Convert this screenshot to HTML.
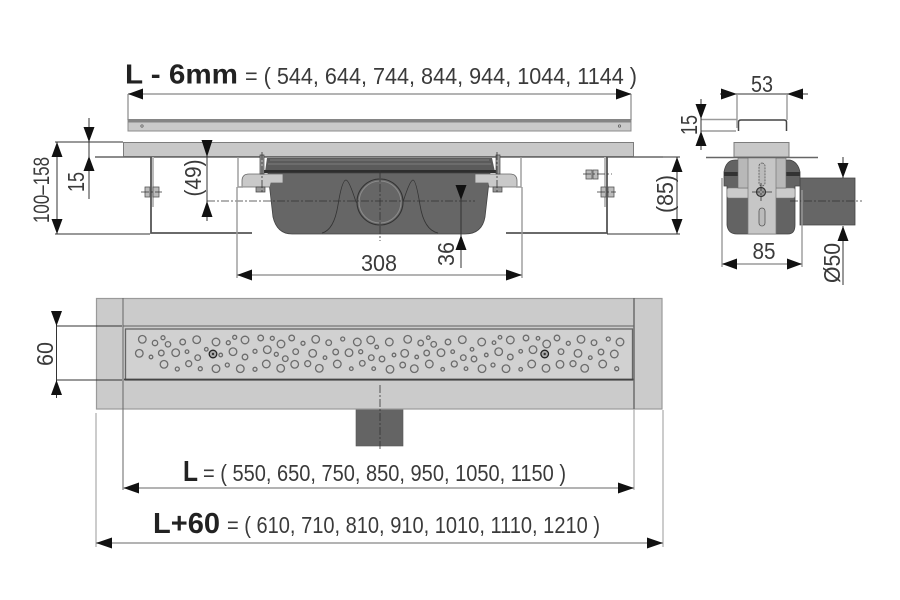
<!DOCTYPE html>
<html>
<head>
<meta charset="utf-8">
<style>
html,body{margin:0;padding:0;background:#fff;width:900px;height:600px;overflow:hidden}
svg{display:block;filter:blur(.35px)}
text{font-family:"Liberation Sans",sans-serif;fill:#3a3a3a}
.b{font-weight:bold;fill:#222}
.d{stroke:#333;stroke-width:1;fill:none}
.g{stroke:#9a9a9a;stroke-width:1.4;fill:none}
.a{fill:#111;stroke:none}
.cl{stroke:#333;stroke-width:.8;stroke-dasharray:8 2 2 2;fill:none}
.h circle{fill:none;stroke:#6c6c6c;stroke-width:1.300}
</style>
</head>
<body>
<svg width="900" height="600" viewBox="0 0 900 600" xmlns="http://www.w3.org/2000/svg">

<!-- top title -->
<text class="b" x="125" y="83.500" font-size="28" textLength="113" lengthAdjust="spacingAndGlyphs">L - 6mm</text>
<text x="245" y="84" font-size="23" textLength="392" lengthAdjust="spacingAndGlyphs">= ( 544, 644, 744, 844, 944, 1044, 1144 )</text>
<path class="g" d="M128 94H631M128 94V120M631 94V120"/>
<path class="a" d="M128 94L143 88.500V99.500ZM631.500 94L616 88.500V99.500Z"/>

<!-- cover bar -->
<rect x="128" y="119.500" width="503" height="11.500" fill="#cacaca" stroke="#8c8c8c"/>
<rect x="128" y="119" width="503" height="3.500" fill="#858585"/>
<circle cx="142" cy="126" r="1.200" fill="none" stroke="#555" stroke-width=".7"/>
<circle cx="619.500" cy="126" r="1.200" fill="none" stroke="#555" stroke-width=".7"/>

<!-- section plate -->
<rect x="123.500" y="142.500" width="510" height="14" fill="#c8c8c8" stroke="#7d7d7d"/>
<path d="M95 157H663" stroke="#666" stroke-width="1.500" fill="none"/>

<!-- tray -->
<path d="M267 158H492L495 172H265Z" fill="#5b5b5b"/>
<path d="M270 160H489M268 164H491" stroke="#8a8a8a" stroke-width=".8" fill="none"/>
<rect x="262" y="170" width="236" height="3" fill="#2e2e2e"/>
<path d="M268 173H490L485 217Q482 234 465 234H292Q277 234 273 217Z" fill="#666" stroke="#444" stroke-width=".8"/>
<path d="M322 233Q334 230 338 205Q342 180 346 180Q349 180 356 202L372 208M438 233Q424 230 420 205Q416 180 413 180Q410 180 403 202L389 208" fill="none" stroke="#333" stroke-width=".8"/>
<circle cx="380" cy="202" r="23" fill="#666" stroke="#333" stroke-width="1.100"/>
<circle cx="380" cy="202" r="21" fill="none" stroke="#8a8a8a" stroke-width="1.100"/>
<path d="M242 187V181Q242 174 249 174H283V183H271L270 187Z" fill="#c9c9c9" stroke="#666" stroke-width=".8"/>
<path d="M517 187V181Q517 174 510 174H475V183H488L489 187Z" fill="#c9c9c9" stroke="#666" stroke-width=".8"/>
<path d="M260 155H264V174H260ZM496 155H500V174H496Z" fill="#999" stroke="#444" stroke-width=".7"/>
<path d="M256 187H265V192H256ZM493 187H502V192H493Z" fill="#999" stroke="#444" stroke-width=".7"/>
<path class="cl" d="M262 152V192M497 152V192"/>
<path class="g" d="M238 157V187H243M521 157V187H516"/>

<!-- side brackets -->
<path d="M151 157V233H252" fill="none" stroke="#555" stroke-width="1.800"/>
<path d="M607 157V233H506" fill="none" stroke="#555" stroke-width="1.800"/>
<rect x="152" y="157" width="2" height="50" fill="#bbb"/>
<rect x="604" y="157" width="2" height="50" fill="#bbb"/>
<g fill="#bbb" stroke="#555" stroke-width=".8">
<rect x="145" y="187" width="5" height="10"/><rect x="153" y="187" width="6" height="10"/>
<rect x="601" y="187" width="5" height="10"/><rect x="608" y="187" width="6" height="10"/>
<rect x="586" y="170" width="6" height="9"/><rect x="593" y="170" width="5" height="9"/>
</g>
<path class="cl" d="M141 192H162M597 192H616M583 174H612"/>

<!-- section dims -->
<path class="cl" d="M207 201H475M380 170V241"/>
<path class="d" d="M55 142H123M55 234H150M57 142V234M89 118V199M207 140V221M461 185V268M663 157H680M607 234H680M677 157V234" stroke-width=".9"/>
<path class="g" d="M237 187V278M522 187V278M237 275H522"/>
<path class="a" d="M57 142L51.500 157H62.500ZM57 234L51.500 219H62.500ZM89 142L83.500 127H94.500ZM89 156L83.500 171H94.500ZM207 157L201.500 140H212.500ZM207 201L201.500 217H212.500ZM461 200L455.500 185H466.500ZM461 235L455.500 250H466.500ZM677 157L671.500 172H682.500ZM677 234L671.500 219H682.500ZM237 275L252 269.500V280.500ZM522 275L506 269.500V280.500Z"/>
<text x="379" y="271" font-size="23" text-anchor="middle" textLength="36" lengthAdjust="spacingAndGlyphs">308</text>
<text transform="translate(49,190) rotate(-90)" font-size="22" text-anchor="middle" textLength="66" lengthAdjust="spacingAndGlyphs">100–158</text>
<text transform="translate(84,182) rotate(-90)" font-size="23" text-anchor="middle" textLength="20" lengthAdjust="spacingAndGlyphs">15</text>
<text transform="translate(201,178) rotate(-90)" font-size="23" text-anchor="middle" textLength="37" lengthAdjust="spacingAndGlyphs">(49)</text>
<text transform="translate(454,254) rotate(-90)" font-size="23" text-anchor="middle" textLength="24" lengthAdjust="spacingAndGlyphs">36</text>
<text transform="translate(673,194) rotate(-90)" font-size="23" text-anchor="middle" textLength="38" lengthAdjust="spacingAndGlyphs">(85)</text>

<!-- end view -->
<path d="M738.500 131V122Q738.500 120 741 120H784Q786.500 120 786.500 122V131" fill="none" stroke="#444" stroke-width="1.500"/>
<path class="d" d="M720 94H808" stroke-width=".9"/>
<path class="g" d="M737 94V128M787 94V120M701 119.500H737M701 131H736"/>
<path class="d" d="M701 99V150" stroke-width=".9"/>
<path class="a" d="M737 94L721 88.500V99.500ZM787 94L803 88.500V99.500ZM701 119L695.500 104H706.500ZM701 131L695.500 146H706.500Z"/>
<text x="762" y="92" font-size="23" text-anchor="middle" textLength="22" lengthAdjust="spacingAndGlyphs">53</text>
<text transform="translate(697,125) rotate(-90)" font-size="23" text-anchor="middle" textLength="20" lengthAdjust="spacingAndGlyphs">15</text>

<path d="M800 178H855V225H800Z" fill="#666" stroke="#444" stroke-width=".8"/>
<path d="M724 172Q726 160 735 160H790Q798 162 800 172V186H795V225Q795 234 788 234H737Q728 234 727 225V186H724Z" fill="#636363" stroke="#444" stroke-width=".8"/>
<rect x="724" y="172" width="76" height="4" fill="#333"/>
<rect x="727" y="188" width="68" height="10" rx="2" fill="#cbcbcb" stroke="#777" stroke-width=".6"/>
<rect x="738" y="158" width="48" height="30" fill="#b8b8b8" stroke="#666" stroke-width=".6"/>
<rect x="748" y="157" width="28" height="77" fill="#c6c6c6" stroke="#777" stroke-width=".7"/>
<rect x="734" y="142.500" width="55" height="14.500" fill="#c8c8c8" stroke="#7d7d7d"/>
<path d="M706 157.500H818" stroke="#666" stroke-width="1.500"/>
<rect x="759" y="163" width="6" height="23" rx="3" fill="#bbb" stroke="#555" stroke-width=".8" stroke-dasharray="2 1"/>
<rect x="759" y="208" width="6" height="18" rx="3" fill="#bbb" stroke="#555" stroke-width=".8"/>
<circle cx="761" cy="192" r="4.500" fill="#999" stroke="#333" stroke-width="1.200"/>
<path class="cl" d="M752 192H772M761 183V201M790 201H862"/>
<path class="g" d="M722 178V267M802 190V267M722 264H802"/>
<path class="d" d="M843 157V285" stroke-width=".9" stroke-dasharray="21 48 100"/>
<path class="a" d="M722 264L737 258.500V269.500ZM802 264L787 258.500V269.500ZM843 178L837.500 163H848.500ZM843 226L837.500 241H848.500Z"/>
<text x="764" y="259" font-size="23" text-anchor="middle" textLength="23" lengthAdjust="spacingAndGlyphs">85</text>
<text transform="translate(840,263) rotate(-90)" font-size="23" text-anchor="middle" textLength="40" lengthAdjust="spacingAndGlyphs">Ø50</text>

<!-- plan view -->
<rect x="356" y="409" width="47" height="37" fill="#646464" stroke="#555" stroke-width=".6"/>
<rect x="96.500" y="298.500" width="565.500" height="110.500" fill="#cbcbcb" stroke="#9a9a9a" stroke-width="1.200"/>
<rect x="125.500" y="329" width="507" height="51" fill="#d1d1d1" stroke="#666" stroke-width="1.300"/>
<path d="M123 326H634" stroke="#777" stroke-width="1.200"/>
<path d="M124 379.500H634" stroke="#444" stroke-width="1.800"/>
<path d="M123 298V490" stroke="#666" stroke-width="1"/>
<path d="M634 298V409" stroke="#666" stroke-width="1.400"/>
<path d="M634 409V490M96 413V547M663 410V547" stroke="#aaa" stroke-width="1.200" fill="none"/>
<path class="cl" d="M380 385V450"/>
<path class="d" d="M56 326H122M56 380H122M56.500 311V398" stroke-width=".9"/>
<path class="a" d="M56.500 326L51 311H62ZM56.500 380L51 395H62Z"/>
<text transform="translate(53,354) rotate(-90)" font-size="23" text-anchor="middle" textLength="24" lengthAdjust="spacingAndGlyphs">60</text>

<!-- holes -->
<g class="h">
<circle cx="142.300" cy="339.300" r="3.800"/><circle cx="155" cy="343" r="2.700"/><circle cx="163" cy="337.700" r="2"/><circle cx="168" cy="344.300" r="2.700"/><circle cx="182.700" cy="342" r="2.800"/><circle cx="196.700" cy="339.700" r="3.800"/><circle cx="216" cy="342" r="3.800"/><circle cx="228.300" cy="342.700" r="2"/><circle cx="234.700" cy="337.300" r="2"/><circle cx="245" cy="340" r="3.800"/><circle cx="260.700" cy="338" r="2.800"/><circle cx="272.300" cy="338.300" r="2"/><circle cx="281" cy="344" r="3.800"/><circle cx="291.700" cy="338" r="2.800"/><circle cx="303" cy="343.300" r="2"/><circle cx="315.700" cy="339.300" r="3.800"/><circle cx="328.700" cy="342.700" r="2.800"/><circle cx="342.700" cy="339" r="2"/>
<circle cx="139.300" cy="353.300" r="3.800"/><circle cx="151" cy="357" r="1.800"/><circle cx="161.300" cy="353" r="2.800"/><circle cx="175.700" cy="352.700" r="3.800"/><circle cx="187" cy="351.700" r="1.800"/><circle cx="197.700" cy="357.700" r="2.800"/><circle cx="206.300" cy="349.300" r="1.800"/><circle cx="220.700" cy="355" r="1.800"/><circle cx="233" cy="351.700" r="3.800"/><circle cx="245" cy="357" r="2.800"/><circle cx="255" cy="351.300" r="2"/><circle cx="267.300" cy="349.700" r="3.800"/><circle cx="276.300" cy="354.300" r="2"/><circle cx="285.300" cy="358.700" r="2.800"/><circle cx="295.700" cy="351.700" r="2.800"/><circle cx="312.700" cy="353.300" r="3.800"/><circle cx="325" cy="357.700" r="1.800"/><circle cx="335.700" cy="352" r="2.800"/><circle cx="349" cy="352.700" r="3.800"/>
<circle cx="164" cy="364.300" r="3.800"/><circle cx="177.300" cy="369" r="2"/><circle cx="188.700" cy="363.700" r="3"/><circle cx="200.300" cy="368.700" r="2"/><circle cx="216" cy="368.700" r="3.800"/><circle cx="227.300" cy="365" r="2"/><circle cx="240.300" cy="368.700" r="3.800"/><circle cx="255" cy="369.300" r="2"/><circle cx="266.300" cy="364" r="3.800"/><circle cx="280.700" cy="368.300" r="3.800"/><circle cx="294.700" cy="364.300" r="3.800"/><circle cx="307.700" cy="363.700" r="3"/><circle cx="319.300" cy="368.300" r="3.800"/><circle cx="337.300" cy="364" r="3.800"/>
<circle cx="357.300" cy="342" r="3.800"/><circle cx="370.700" cy="340" r="3.800"/><circle cx="376.700" cy="347" r="1.800"/><circle cx="389.300" cy="342" r="3.800"/><circle cx="407.700" cy="339.300" r="3.800"/><circle cx="420.700" cy="343" r="2.800"/><circle cx="428.300" cy="337.700" r="1.800"/><circle cx="433.700" cy="344.300" r="2.800"/><circle cx="448" cy="342" r="2.800"/><circle cx="462.300" cy="339.700" r="3.800"/><circle cx="481.700" cy="342" r="3.800"/><circle cx="494" cy="342.700" r="1.800"/><circle cx="500" cy="337.300" r="1.800"/><circle cx="510.300" cy="340" r="3.800"/><circle cx="526" cy="338" r="2.800"/><circle cx="538" cy="338.300" r="1.800"/><circle cx="546.700" cy="344" r="3.800"/><circle cx="557" cy="338" r="2.800"/><circle cx="568.300" cy="343.300" r="2"/><circle cx="581" cy="339.300" r="3.800"/><circle cx="594" cy="342.700" r="2.800"/><circle cx="608.300" cy="339" r="2"/><circle cx="620" cy="342" r="3.800"/>
<circle cx="360.700" cy="351.700" r="2"/><circle cx="371.300" cy="357.700" r="2.800"/><circle cx="382" cy="359" r="2.800"/><circle cx="394" cy="355" r="1.800"/><circle cx="404.700" cy="353.300" r="3.800"/><circle cx="416.700" cy="357" r="1.800"/><circle cx="426.700" cy="353" r="2.800"/><circle cx="441" cy="352.700" r="3.800"/><circle cx="452.700" cy="351.700" r="1.800"/><circle cx="463.300" cy="357.700" r="2.800"/><circle cx="472" cy="349.300" r="1.800"/><circle cx="474" cy="359" r="2.800"/><circle cx="486.300" cy="355" r="1.800"/><circle cx="498.700" cy="351.700" r="3.800"/><circle cx="510.300" cy="357" r="2.800"/><circle cx="520.700" cy="351.300" r="1.800"/><circle cx="533" cy="349.700" r="3.800"/><circle cx="561" cy="351.700" r="2.800"/><circle cx="578" cy="353.300" r="3.800"/><circle cx="590.300" cy="357.700" r="1.800"/><circle cx="601" cy="352" r="2.800"/><circle cx="614.300" cy="354" r="3.800"/>
<circle cx="351.300" cy="368.700" r="1.800"/><circle cx="362.300" cy="363.300" r="2.800"/><circle cx="373.700" cy="368.700" r="1.800"/><circle cx="390" cy="369.300" r="3.800"/><circle cx="402.700" cy="365" r="2.800"/><circle cx="414.300" cy="368.700" r="3.800"/><circle cx="429.300" cy="364" r="3.800"/><circle cx="442.700" cy="369.300" r="1.800"/><circle cx="454.300" cy="364" r="3"/><circle cx="466" cy="368.700" r="1.800"/><circle cx="482" cy="368.700" r="3.800"/><circle cx="493" cy="365" r="2"/><circle cx="506" cy="368.700" r="3.800"/><circle cx="520.700" cy="369.300" r="1.800"/><circle cx="531.700" cy="364" r="3.800"/><circle cx="546" cy="368.300" r="3.800"/><circle cx="560" cy="364.300" r="3.800"/><circle cx="573" cy="363.700" r="3"/><circle cx="584.700" cy="368.300" r="3.800"/><circle cx="602.700" cy="364" r="3.800"/><circle cx="616.700" cy="368.700" r="2"/>
</g>
<circle cx="213" cy="354" r="3.800" fill="#aaa" stroke="#222" stroke-width="1.300"/><circle cx="213" cy="354" r="1.200" fill="#333"/>
<circle cx="544.700" cy="354" r="3.800" fill="#aaa" stroke="#222" stroke-width="1.300"/><circle cx="544.700" cy="354" r="1.200" fill="#333"/>

<!-- bottom dims -->
<text class="b" x="183" y="481" font-size="29" textLength="15" lengthAdjust="spacingAndGlyphs">L</text>
<text x="203" y="481" font-size="23" textLength="363" lengthAdjust="spacingAndGlyphs">= ( 550, 650, 750, 850, 950, 1050, 1150 )</text>
<path class="g" d="M123 488H634" stroke-width="1.100"/>
<path class="a" d="M123.500 488L139 482.500V493.500ZM634 488L618 482.500V493.500Z"/>
<text class="b" x="153" y="533" font-size="29" textLength="67" lengthAdjust="spacingAndGlyphs">L+60</text>
<text x="227" y="533" font-size="23" textLength="373" lengthAdjust="spacingAndGlyphs">= ( 610, 710, 810, 910, 1010, 1110, 1210 )</text>
<path class="g" d="M96 543H663"/>
<path class="a" d="M96 543L112 537.500V548.500ZM663 543L647 537.500V548.500Z"/>
</svg>
</body>
</html>
